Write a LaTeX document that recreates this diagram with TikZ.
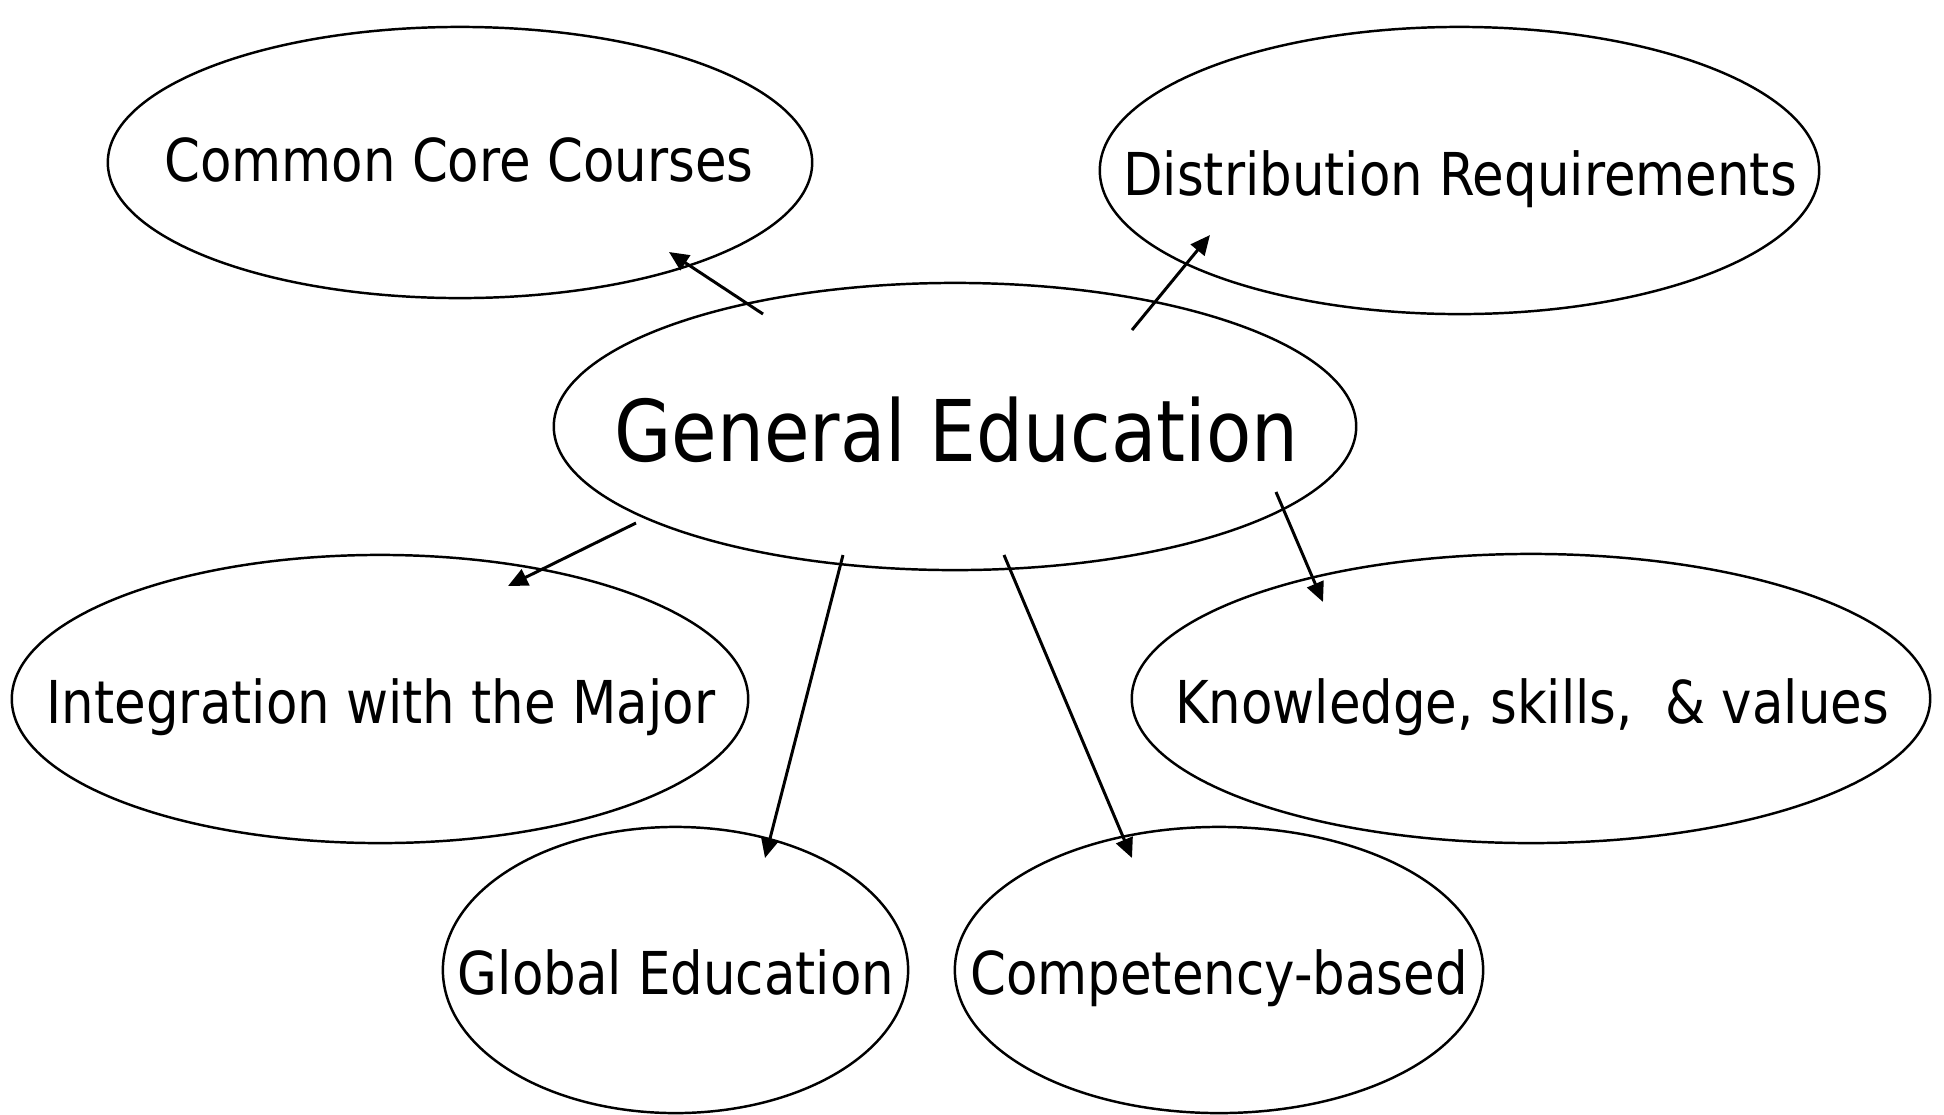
\documentclass[tikz,border=0pt]{standalone}
\usepackage{fontspec}
\setmainfont{DejaVu Sans}[FakeStretch=0.87]
\usetikzlibrary{shapes.geometric,arrows.meta}
\tikzset{
  bubble/.style={draw, ellipse, line width=0.7pt, inner sep=0pt},
  lbl/.style={anchor=base, inner sep=0pt, font=\fontsize{16.8pt}{20pt}\selectfont},
  biglbl/.style={lbl, font=\fontsize{24.2pt}{28pt}\selectfont},
  link/.style={line width=0.85pt, -{Triangle[length=5.6pt,width=5pt]}}
}
\begin{document}
\begin{tikzpicture}[x=0.01cm,y=-0.01cm]
\useasboundingbox (0,0) rectangle (1944,1114);
\node[bubble, minimum width=7.04cm, minimum height=2.71cm] (cc) at (460,162.5) {};
\node[bubble, minimum width=7.19cm, minimum height=2.87cm] (dr) at (1459.5,170.5) {};
\node[bubble, minimum width=8.02cm, minimum height=2.87cm] (ge) at (955,426.5) {};
\node[bubble, minimum width=7.36cm, minimum height=2.88cm] (im) at (380,699) {};
\node[bubble, minimum width=7.98cm, minimum height=2.89cm] (ks) at (1531,698.5) {};
\node[bubble, minimum width=4.65cm, minimum height=2.86cm] (gl) at (675.5,970) {};
\node[bubble, minimum width=5.28cm, minimum height=2.86cm] (cb) at (1219,970) {};
\node[lbl] (cc-t) at (459,181) {Common Core Courses};
\node[lbl] (dr-t) at (1460,195) {Distribution Requirements};
\node[biglbl] (ge-t) at (956.5,461) {General Education};
\node[lbl] (im-t) at (381,723) {Integration with the Major};
\node[lbl] (ks-t) at (1532,723) {Knowledge, skills,\ \ \& values};
\node[lbl] (gl-t) at (676,994) {Global Education};
\node[lbl] (cb-t) at (1219,994) {Competency-based};
% arrow end points
\coordinate (s1) at (763,314); \coordinate (t1) at (669,252);
\coordinate (s2) at (1132,330); \coordinate (t2) at (1210,235);
\coordinate (s3) at (636,523); \coordinate (t3) at (508,586);
\coordinate (s4) at (843,555); \coordinate (t4) at (765,858);
\coordinate (s5) at (1004,555); \coordinate (t5) at (1132,858);
\coordinate (s6) at (1276,492); \coordinate (t6) at (1323,602);
\draw[link] (s1) -- (t1);
\draw[link] (s2) -- (t2);
\draw[link] (s3) -- (t3);
\draw[link] (s4) -- (t4);
\draw[link] (s5) -- (t5);
\draw[link] (s6) -- (t6);
\end{tikzpicture}
\end{document}
